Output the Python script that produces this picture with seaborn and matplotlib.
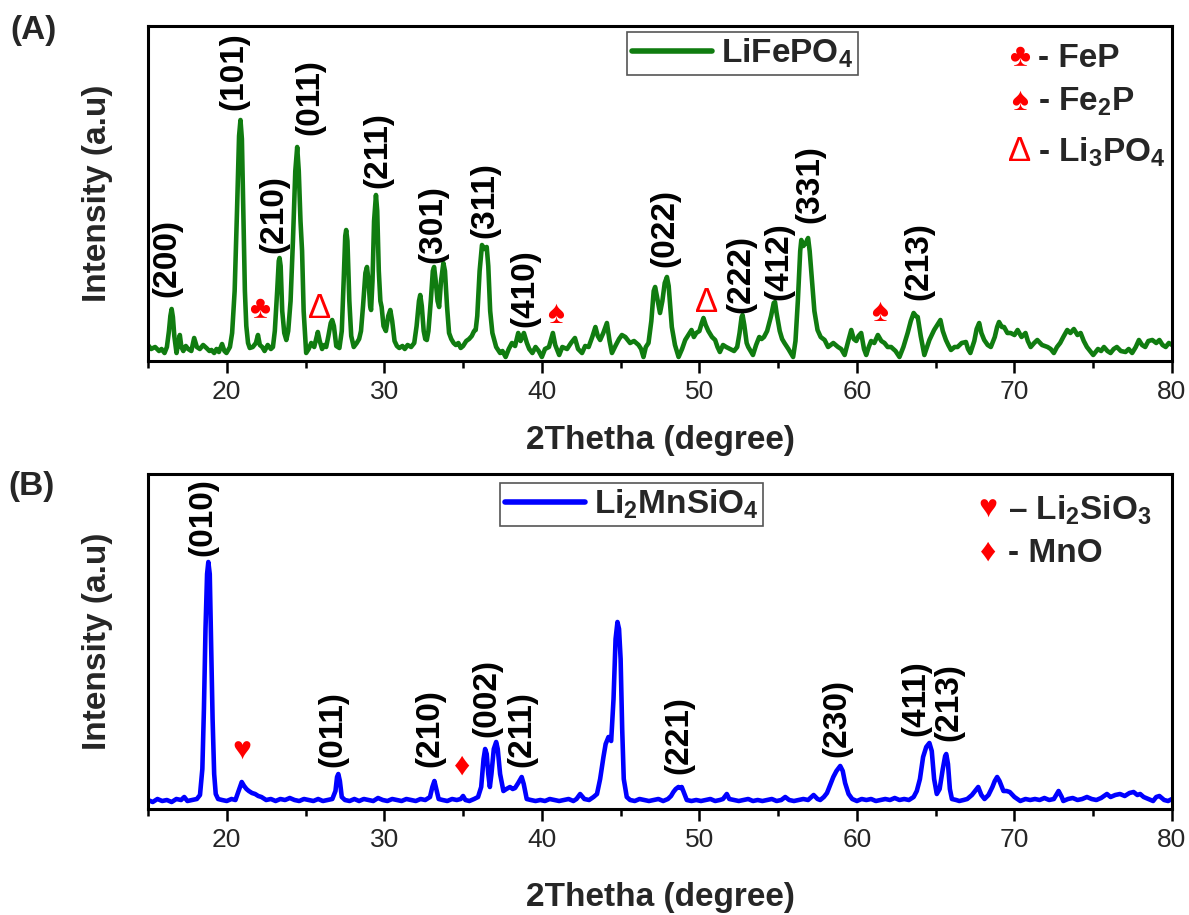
import matplotlib
matplotlib.use("Agg")
import matplotlib.pyplot as plt
import seaborn as sns
import pandas as pd

sns.set_style("ticks")
plt.rcParams['font.family'] = ['Liberation Sans', 'DejaVu Sans']
plt.rcParams['mathtext.fontset'] = 'custom'
plt.rcParams['mathtext.rm'] = 'Liberation Sans'
plt.rcParams['mathtext.bf'] = 'Liberation Sans:bold'
plt.rcParams['mathtext.default'] = 'bf'

# ---------------- data: LiFePO4 pattern (2theta, intensity a.u.) ----------------
lfp_2theta = [
    15.0, 15.2, 15.45, 15.7, 15.86, 16.05, 16.2, 16.33, 16.42, 16.5,
    16.58, 16.67, 16.81, 16.92, 17.02, 17.12, 17.24, 17.4, 17.55, 17.75,
    17.93, 18.1, 18.29, 18.5, 18.71, 18.9, 19.03, 19.2, 19.35, 19.5,
    19.7, 19.85, 19.98, 20.2, 20.34, 20.5, 20.65, 20.78, 20.87, 20.96,
    21.05, 21.15, 21.24, 21.35, 21.46, 21.65, 21.85, 21.98, 22.1, 22.25,
    22.4, 22.6, 22.8, 22.93, 23.05, 23.2, 23.3, 23.35, 23.42, 23.52,
    23.65, 23.78, 23.9, 24.05, 24.2, 24.35, 24.47, 24.57, 24.68, 24.78,
    24.88, 25.04, 25.2, 25.36, 25.55, 25.7, 25.78, 25.9, 26.05, 26.2,
    26.31, 26.45, 26.6, 26.69, 26.8, 26.95, 27.15, 27.3, 27.42, 27.52,
    27.58, 27.66, 27.78, 27.9, 28.06, 28.25, 28.4, 28.52, 28.65, 28.8,
    28.9, 29.0, 29.1, 29.16, 29.25, 29.35, 29.47, 29.55, 29.65, 29.75,
    29.83, 29.95, 30.1, 30.25, 30.38, 30.5, 30.65, 30.8, 30.95, 31.15,
    31.3, 31.48, 31.7, 31.9, 32.05, 32.2, 32.28, 32.38, 32.5, 32.6,
    32.7, 32.8, 32.95, 33.08, 33.16, 33.25, 33.38, 33.48, 33.6, 33.75,
    33.85, 33.98, 34.11, 34.25, 34.4, 34.54, 34.7, 34.85, 35.0, 35.2,
    35.38, 35.55, 35.7, 35.8, 35.9, 36.05, 36.2, 36.35, 36.5, 36.6,
    36.72, 36.86, 37.1, 37.35, 37.5, 37.7, 37.9, 38.1, 38.3, 38.5,
    38.65, 38.86, 39.05, 39.2, 39.4, 39.6, 39.8, 40.0, 40.2, 40.45,
    40.7, 40.85, 41.1, 41.3, 41.6, 41.85, 42.1, 42.3, 42.55, 42.75,
    42.97, 43.2, 43.4, 43.55, 43.7, 43.9, 44.13, 44.3, 44.45, 44.7,
    44.9, 45.08, 45.3, 45.6, 45.85, 46.14, 46.3, 46.45, 46.6, 46.77,
    46.95, 47.1, 47.19, 47.3, 47.5, 47.65, 47.8, 47.94, 48.05, 48.15,
    48.25, 48.45, 48.68, 48.9, 49.1, 49.3, 49.5, 49.65, 49.8, 50.0,
    50.15, 50.26, 50.4, 50.57, 50.8, 51.0, 51.15, 51.3, 51.5, 51.7,
    51.95, 52.2, 52.4, 52.55, 52.68, 52.74, 52.85, 53.0, 53.1, 53.25,
    53.4, 53.6, 53.8, 53.95, 54.1, 54.3, 54.55, 54.72, 54.8, 54.9,
    55.1, 55.25, 55.4, 55.65, 55.95, 56.1, 56.25, 56.4, 56.47, 56.6,
    56.75, 56.9, 57.0, 57.15, 57.3, 57.5, 57.7, 57.95, 58.17, 58.5,
    58.8, 59.0, 59.22, 59.45, 59.64, 59.8, 59.96, 60.1, 60.27, 60.45,
    60.59, 60.75, 60.9, 61.1, 61.33, 61.55, 61.75, 61.95, 62.17, 62.45,
    62.7, 62.95, 63.22, 63.42, 63.6, 63.75, 63.86, 64.05, 64.28, 64.45,
    64.6, 64.75, 64.9, 65.1, 65.3, 65.45, 65.65, 65.8, 65.97, 66.2,
    66.39, 66.65, 66.92, 67.05, 67.2, 67.45, 67.6, 67.76, 67.9, 68.08,
    68.3, 68.5, 68.75, 68.9, 69.02, 69.2, 69.34, 69.55, 69.76, 70.0,
    70.2, 70.45, 70.7, 70.85, 71.03, 71.25, 71.45, 71.75, 72.1, 72.3,
    72.5, 72.7, 72.9, 73.1, 73.35, 73.55, 73.77, 74.0, 74.2, 74.4,
    74.6, 74.8, 75.0, 75.3, 75.5, 75.68, 75.9, 76.1, 76.3, 76.5,
    76.75, 77.05, 77.25, 77.47, 77.7, 77.9, 78.1, 78.3, 78.5, 78.75,
    79.0, 79.2, 79.4, 79.6, 79.8, 80.0,
]
lfp_intensity = [
    16, 12, 14, 10, 12, 8, 14, 30, 45, 52,
    44, 25, 8, 18, 26, 14, 10, 15, 12, 10,
    23, 14, 12, 16, 13, 10, 11, 8, 12, 9,
    17, 10, 8, 14, 28, 70, 150, 225, 241, 222,
    150, 70, 35, 18, 13, 14, 18, 26, 16, 14,
    10, 16, 12, 14, 30, 70, 100, 103, 95, 50,
    28, 21, 30, 60, 120, 190, 214, 190, 140, 110,
    50, 8, 12, 18, 14, 24, 29, 20, 12, 16,
    14, 25, 38, 41, 35, 15, 13, 30, 80, 125,
    131, 120, 60, 25, 14, 18, 22, 30, 55, 88,
    94, 80, 55, 51, 80, 140, 166, 150, 90, 60,
    54, 35, 30, 45, 51, 40, 20, 15, 13, 15,
    12, 16, 14, 18, 35, 60, 66, 55, 30, 22,
    21, 30, 60, 90, 94, 82, 60, 54, 80, 98,
    90, 55, 28, 22, 18, 16, 18, 13, 15, 20,
    22, 25, 30, 31, 45, 90, 116, 112, 114, 95,
    50, 28, 14, 8, 10, 4, 12, 18, 15, 28,
    20, 28, 18, 12, 8, 14, 10, 4, 12, 14,
    28, 16, 6, 14, 12, 18, 23, 12, 8, 15,
    14, 24, 34, 25, 21, 28, 38, 20, 8, 16,
    22, 26, 24, 18, 20, 16, 12, 4, 14, 18,
    40, 70, 74, 65, 48, 60, 78, 84, 75, 55,
    34, 16, 4, 12, 21, 26, 31, 24, 28, 30,
    38, 43, 36, 30, 24, 21, 14, 9, 16, 14,
    12, 10, 14, 28, 44, 46, 36, 18, 14, 10,
    6, 16, 24, 22, 24, 30, 45, 58, 59, 48,
    30, 22, 18, 12, 4, 20, 60, 110, 121, 115,
    118, 123, 110, 80, 50, 31, 24, 21, 14, 18,
    14, 12, 6, 20, 31, 22, 20, 25, 28, 12,
    6, 14, 20, 18, 26, 20, 18, 14, 14, 10,
    4, 14, 28, 40, 48, 45, 44, 25, 6, 14,
    21, 26, 31, 36, 41, 30, 21, 16, 11, 14,
    14, 18, 19, 12, 8, 20, 32, 38, 28, 21,
    16, 14, 24, 34, 39, 34, 34, 28, 28, 26,
    31, 24, 28, 20, 14, 18, 21, 16, 14, 12,
    8, 14, 18, 24, 31, 28, 32, 26, 28, 20,
    14, 10, 6, 12, 10, 14, 10, 8, 12, 14,
    10, 9, 12, 8, 14, 21, 16, 14, 20, 21,
    18, 21, 16, 14, 18, 16,
]

# ---------------- data: Li2MnSiO4 pattern ----------------
lms_2theta = [
    15.0, 15.3, 15.6, 15.9, 16.2, 16.5, 16.8, 17.1, 17.3, 17.5,
    17.8, 18.1, 18.3, 18.45, 18.55, 18.65, 18.75, 18.83, 18.92, 19.0,
    19.1, 19.2, 19.3, 19.45, 19.7, 20.0, 20.3, 20.55, 20.75, 20.95,
    21.1, 21.25, 21.4, 21.6, 21.8, 22.0, 22.2, 22.5, 22.8, 23.1,
    23.4, 23.7, 24.0, 24.3, 24.6, 24.9, 25.2, 25.5, 25.8, 26.1,
    26.4, 26.7, 26.9, 27.0, 27.08, 27.18, 27.3, 27.5, 27.8, 28.1,
    28.4, 28.7, 29.0, 29.3, 29.6, 29.9, 30.2, 30.5, 30.8, 31.1,
    31.4, 31.7, 32.0, 32.3, 32.6, 32.9, 33.05, 33.18, 33.3, 33.45,
    33.7, 34.0, 34.3, 34.6, 34.85, 35.0, 35.15, 35.4, 35.7, 35.95,
    36.15, 36.3, 36.4, 36.5, 36.6, 36.7, 36.8, 36.95, 37.1, 37.2,
    37.35, 37.56, 37.75, 37.98, 38.15, 38.3, 38.5, 38.72, 38.85, 39.04,
    39.3, 39.6, 39.9, 40.2, 40.5, 40.8, 41.1, 41.4, 41.7, 42.0,
    42.2, 42.43, 42.7, 43.0, 43.28, 43.5, 43.7, 43.91, 44.05, 44.23,
    44.4, 44.55, 44.68, 44.8, 44.9, 45.0, 45.1, 45.2, 45.39, 45.6,
    45.9, 46.2, 46.5, 46.8, 47.1, 47.4, 47.7, 48.0, 48.2, 48.35,
    48.5, 48.67, 48.8, 48.88, 49.05, 49.2, 49.5, 49.8, 50.1, 50.4,
    50.7, 51.0, 51.3, 51.5, 51.74, 51.9, 52.2, 52.5, 52.8, 53.1,
    53.4, 53.7, 54.0, 54.3, 54.6, 54.9, 55.2, 55.45, 55.7, 56.0,
    56.3, 56.6, 56.9, 57.25, 57.5, 57.67, 57.9, 58.1, 58.3, 58.5,
    58.7, 58.94, 59.1, 59.25, 59.47, 59.7, 60.0, 60.3, 60.6, 60.9,
    61.2, 61.5, 61.8, 62.1, 62.4, 62.7, 63.0, 63.3, 63.6, 63.8,
    64.0, 64.2, 64.4, 64.6, 64.75, 64.9, 65.07, 65.25, 65.45, 65.6,
    65.67, 65.78, 65.9, 66.03, 66.3, 66.5, 66.77, 67.0, 67.3, 67.5,
    67.7, 67.9, 68.1, 68.35, 68.6, 68.75, 68.9, 69.05, 69.3, 69.5,
    69.7, 70.0, 70.37, 70.7, 71.0, 71.3, 71.6, 71.9, 72.2, 72.5,
    72.8, 73.0, 73.1, 73.4, 73.7, 74.0, 74.3, 74.6, 74.9, 75.2,
    75.5, 75.87, 76.1, 76.4, 76.7, 77.0, 77.3, 77.56, 77.8, 77.98,
    78.2, 78.5, 78.8, 79.0, 79.2, 79.5, 79.75, 80.0,
]
lms_intensity = [
    9, 7, 10, 8, 9, 7, 10, 9, 12, 8,
    9, 10, 14, 40, 100, 180, 235, 247, 235, 170,
    90, 35, 15, 10, 9, 8, 10, 9, 18, 27,
    23, 20, 18, 16, 15, 13, 12, 9, 10, 8,
    10, 9, 11, 9, 8, 10, 9, 8, 10, 8,
    9, 10, 18, 32, 35, 28, 12, 9, 8, 10,
    8, 10, 9, 8, 11, 9, 8, 10, 9, 8,
    10, 9, 8, 10, 9, 12, 22, 28, 20, 10,
    9, 8, 10, 9, 10, 13, 9, 8, 10, 12,
    22, 50, 60, 55, 35, 22, 35, 60, 67, 60,
    35, 18, 20, 22, 20, 21, 26, 32, 25, 10,
    9, 8, 9, 8, 10, 9, 8, 9, 10, 8,
    10, 15, 10, 9, 12, 15, 30, 52, 65, 72,
    68, 110, 170, 187, 180, 150, 80, 30, 12, 9,
    8, 10, 9, 8, 9, 10, 8, 10, 13, 17,
    20, 22, 21, 22, 15, 9, 8, 9, 8, 9,
    10, 8, 9, 10, 15, 10, 9, 8, 9, 10,
    8, 9, 8, 9, 10, 8, 9, 12, 9, 8,
    9, 10, 9, 14, 10, 9, 12, 16, 24, 32,
    38, 43, 38, 26, 15, 10, 8, 10, 9, 10,
    8, 9, 10, 9, 11, 9, 10, 9, 12, 18,
    30, 52, 62, 66, 58, 30, 15, 20, 40, 53,
    55, 45, 20, 10, 9, 8, 9, 10, 14, 18,
    22, 14, 10, 14, 22, 28, 32, 28, 18, 18,
    17, 12, 8, 10, 9, 10, 9, 11, 9, 10,
    18, 12, 8, 10, 11, 9, 10, 12, 10, 9,
    11, 15, 12, 14, 15, 13, 16, 17, 14, 15,
    12, 10, 8, 12, 13, 9, 8, 10,
]

# ---------------- Miller-index labels and impurity markers ----------------
lfp_hkl = ["(200)", "(101)", "(210)", "(011)", "(211)", "(301)", "(311)",
           "(410)", "(022)", "(222)", "(412)", "(331)", "(213)"]
lfp_hkl_x = [16.2, 20.45, 23.0, 25.25, 29.6, 33.1, 36.4, 38.94, 47.8, 52.63, 55.02, 57.03, 63.95]
lfp_hkl_y = [64, 251, 108, 226, 173, 98, 123, 34, 94, 48, 61, 138, 61]

lfp_imp = ["\u2663", "\u0394", "\u2660", "\u0394", "\u2660"]
lfp_imp_x = [22.1, 25.9, 40.9, 50.47, 61.43]
lfp_imp_y = [51, 53, 46, 59, 48]

lms_hkl = ["(010)", "(011)", "(210)", "(002)", "(211)", "(221)", "(230)", "(411)", "(213)"]
lms_hkl_x = [18.49, 26.75, 32.9, 36.5, 38.75, 48.7, 58.7, 63.76, 65.85]
lms_hkl_y = [253, 42, 42, 72, 42, 35, 52, 73, 68]

lms_imp = ["\u2665", "\u2666"]
lms_imp_x = [20.95, 34.93]
lms_imp_y = [57, 42]

lfp_key_sym = ["\u2663", "\u2660", "\u0394"]
lfp_key_txt = ["- FeP", "- Fe$_2$P", "- Li$_3$PO$_4$"]
lms_key_sym = ["\u2665", "\u2666"]
lms_key_txt = ["\u2013 Li$_2$SiO$_3$", "- MnO"]

x_major = [20, 30, 40, 50, 60, 70, 80]
x_minor = [15, 25, 35, 45, 55, 65, 75]

dfA = pd.DataFrame({"2theta": lfp_2theta, "I": lfp_intensity})
dfB = pd.DataFrame({"2theta": lms_2theta, "I": lms_intensity})

W, H = 1189, 915
fig = plt.figure(figsize=(W / 100, H / 100), dpi=100)
axA = fig.add_axes([148 / W, 1 - 361 / H, 1024 / W, 335 / H])
axB = fig.add_axes([148 / W, 1 - 809 / H, 1024 / W, 335 / H])

sns.lineplot(data=dfA, x="2theta", y="I", ax=axA, color="#107c10", lw=3.3,
             estimator=None, sort=False, label="LiFePO$_4$")
sns.lineplot(data=dfB, x="2theta", y="I", ax=axB, color="#0000ff", lw=3.3,
             estimator=None, sort=False, label="Li$_2$MnSiO$_4$")

RED = "#ff0000"


def sym_size(s):
    return 25 if s == "\u0394" else 23


for ax, hkl, hx, hy, imp, ix, iy in [
    (axA, lfp_hkl, lfp_hkl_x, lfp_hkl_y, lfp_imp, lfp_imp_x, lfp_imp_y),
    (axB, lms_hkl, lms_hkl_x, lms_hkl_y, lms_imp, lms_imp_x, lms_imp_y),
]:
    ax.set_xlim(15, 80)
    ax.set_ylim(0, 335)
    ax.set_xticks(x_major)
    ax.set_xticks(x_minor, minor=True)
    ax.set_yticks([])
    ax.tick_params(axis="x", which="major", direction="out", length=8.5, width=1.8,
                   labelsize=19, pad=5, color="black")
    ax.tick_params(axis="x", which="minor", direction="out", length=5, width=1.8, color="black")
    for s in ax.spines.values():
        s.set_visible(True)
        s.set_linewidth(2.2)
        s.set_color("black")
    ax.set_xlabel("2Thetha (degree)", fontsize=24, fontweight="bold")
    ax.set_ylabel("Intensity (a.u)", fontsize=24, fontweight="bold")
    ax.yaxis.set_label_coords(-0.034, 0.5)
    for t, x, y in zip(hkl, hx, hy):
        ax.text(x, y, t, rotation=90, ha="center", va="bottom", fontsize=24,
                fontweight="bold", color="black")
    for t, x, y in zip(imp, ix, iy):
        ax.text(x, y, t, ha="center", va="center", fontsize=sym_size(t), color=RED)

axA.xaxis.set_label_coords(0.5, -0.192)
axB.xaxis.set_label_coords(0.5, -0.218)

leg_kw = dict(loc="upper left", frameon=True, fancybox=False, edgecolor="#555555",
              framealpha=1, prop={"weight": "bold", "size": 24}, handlelength=2.4,
              handletextpad=0.25, borderpad=0.15, borderaxespad=0)
lgA = axA.legend(bbox_to_anchor=(0.468, 0.982), **leg_kw)
lgB = axB.legend(bbox_to_anchor=(0.344, 0.973), **leg_kw)
for lg in (lgA, lgB):
    lg.get_frame().set_linewidth(1.2)
    for ln in lg.get_lines():
        ln.set_linewidth(4)

# impurity keys
for i, (sym, txt) in enumerate(zip(lfp_key_sym, lfp_key_txt)):
    yy = [0.904, 0.773, 0.624][i]
    axA.text(0.851, yy, sym, transform=axA.transAxes, ha="center", va="center",
             fontsize=sym_size(sym), color=RED)
    axA.text(0.869, yy, txt, transform=axA.transAxes, ha="left", va="center",
             fontsize=24, fontweight="bold")
for i, (sym, txt) in enumerate(zip(lms_key_sym, lms_key_txt)):
    yy = [0.893, 0.764][i]
    axB.text(0.820, yy, sym, transform=axB.transAxes, ha="center", va="center",
             fontsize=sym_size(sym), color=RED)
    axB.text(0.840, yy, txt, transform=axB.transAxes, ha="left", va="center",
             fontsize=24, fontweight="bold")

fig.text(34 / W, 1 - 31 / H, "(A)", ha="center", va="center", fontsize=24, fontweight="bold")
fig.text(31 / W, 1 - 487 / H, "(B)", ha="center", va="center", fontsize=24, fontweight="bold")

fig.savefig("out.png", dpi=100, facecolor="white")
